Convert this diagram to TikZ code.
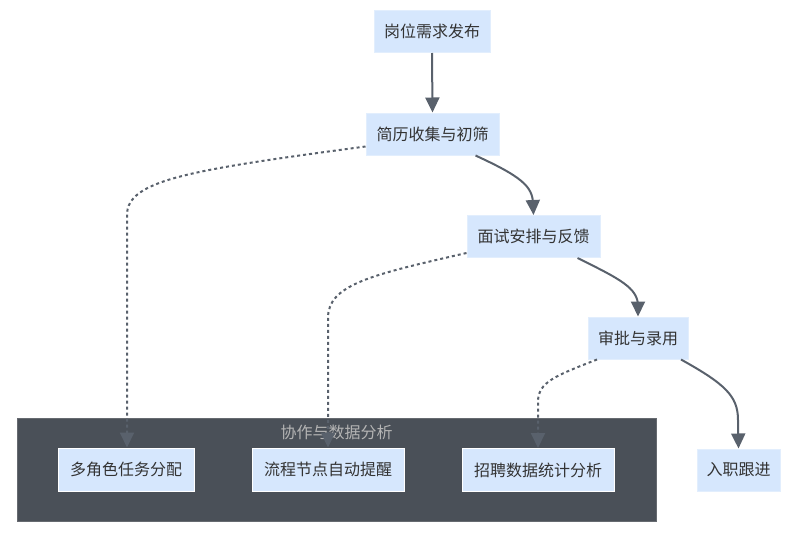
\documentclass[tikz,border=0pt]{standalone}
\usepackage{fontspec}
\setmainfont{Noto Sans CJK SC}
\usetikzlibrary{arrows.meta}
\definecolor{nodefill}{HTML}{D6E7FD}
\definecolor{nodeline}{HTML}{E2EEFD}
\definecolor{txt}{HTML}{333333}
\definecolor{edge}{HTML}{59616C}
\definecolor{clusterfill}{HTML}{4A5058}
\definecolor{clusterline}{HTML}{666A70}
\definecolor{clustertxt}{HTML}{B4B4B4}
\tikzset{
  box/.style={draw=nodeline, line width=1pt, fill=nodefill, text=txt, inner sep=0pt,
    minimum height=42pt, font=\fontsize{16pt}{18pt}\selectfont},
  subbox/.style={box, draw=white},
  flow/.style={draw=edge, line width=2pt, -{Triangle[length=15pt,width=14pt]}},
  dflow/.style={draw=edge, line width=2pt, dash pattern=on 3pt off 3pt, -{Triangle[length=15pt,width=14pt]}},
}
\begin{document}
\begin{tikzpicture}[x=1pt,y=-1pt]
\useasboundingbox (0,0) rectangle (806,536);
% cluster
\node[draw=clusterline, line width=1pt, fill=clusterfill, minimum width=639pt, minimum height=103pt, inner sep=0pt] (cl) at (336.5,469.5) {};
\node[text=clustertxt, font=\fontsize{16pt}{18pt}\selectfont, inner sep=0pt] (cltitle) at (336.5,432) {协作与数据分析};
% main nodes
\node[box, minimum width=116pt] (A) at (432,31.5) {岗位需求发布};
\node[box, minimum width=133pt] (B) at (432.5,134) {简历收集与初筛};
\node[box, minimum width=133pt] (C) at (533.5,236.5) {面试安排与反馈};
\node[box, minimum width=100pt] (D) at (638,338) {审批与录用};
\node[box, minimum width=83pt] (E) at (738.5,470) {入职跟进};
% cluster nodes
\node[subbox, minimum width=136pt, minimum height=43pt] (F) at (126,469.5) {多角色任务分配};
\node[subbox, minimum width=152pt, minimum height=43pt] (G) at (328,469.5) {流程节点自动提醒};
\node[subbox, minimum width=152pt, minimum height=43pt] (H) at (538,470) {招聘数据统计分析};
% solid edges
\draw[flow] (A.south) -- (B.north);
\draw[flow] ([xshift=43pt]B.south) .. controls (520,176) and (533,186) .. (533,204) -- (C.north);
\draw[flow] ([xshift=44pt]C.south) .. controls (620,279) and (638,288) .. (638,306) -- (D.north);
\draw[flow] ([xshift=43pt]D.south) .. controls (725,384) and (738,396) .. (738,420) -- (E.north);
% dotted edges
\draw[dflow] ([yshift=9pt]B.south west) .. controls (190,170) and (127,180) .. (127,215) -- ([xshift=1pt]F.north);
\draw[dflow] ([yshift=5pt]C.south west) .. controls (370,275) and (328,285) .. (328,318) -- (G.north);
\draw[dflow] ([xshift=-41pt]D.south) .. controls (555,376) and (538,382) .. (538,402) -- (H.north);
\end{tikzpicture}
\end{document}
